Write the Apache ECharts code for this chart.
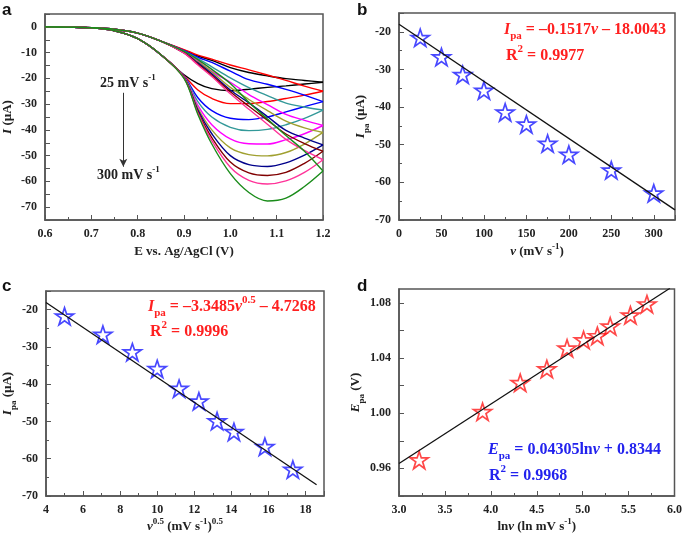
<!DOCTYPE html>
<html><head><meta charset="utf-8">
<script src="https://cdn.jsdelivr.net/npm/echarts@6/dist/echarts.min.js"></script>
<style>html,body{margin:0;padding:0;background:#fff}#c{width:685px;height:535px}</style>
</head><body><div id="c"></div>
<script>
// ---------- Panel a : CV curves ----------
const xA = [0.6,0.65,0.7,0.75,0.8,0.85,0.9,0.93,0.96,1.0,1.04,1.08,1.12,1.16,1.2];
const peakHead = [0,-0.1,-0.4,-1.5,-4.6,-10.8];
const retHead  = [0,-0.1,-0.3,-0.9,-2.4,-5.5];
const p25  = [-18.6,-22,-24,-24.8,-24.2,-23.5,-22.9,-22.2,-21.5];
const p50  = [-19,-24.5,-27.8,-29.8,-29.8,-29,-27.8,-26.5,-25];
const p75  = [-19.2,-27.5,-32.5,-35.5,-36,-35,-33,-31,-29];
const p100 = [-19.3,-29,-35,-39,-40.3,-39.8,-38,-35.5,-32.3];
const p125 = [-19.4,-30.5,-38,-43.5,-45.4,-45.5,-43.8,-41.5,-38.3];
const p150 = [-19.5,-31.5,-40,-47,-49.6,-50.1,-48.8,-45.5,-41];
const p175 = [-19.6,-32.3,-41.5,-50,-53.5,-54.2,-52.8,-49.8,-45.8];
const p200 = [-19.7,-33,-43,-52.5,-56.7,-57.7,-56.5,-53,-48.3];
const p250 = [-19.8,-33.5,-44.2,-54.5,-59.6,-61,-59.8,-56.5,-51.6];
const p300 = [-20,-34,-45.5,-57,-64.3,-67.6,-66.5,-62,-56];
const r25  = [-9,-11.3,-13,-15.8,-17.7,-19,-20.1,-20.8,-21.5];
const r50  = [-8.8,-11,-12.5,-14.8,-16.7,-18.7,-20.8,-23,-25];
const r75  = [-9.2,-11.8,-13.8,-17.2,-20.5,-22.3,-24.3,-26.5,-29];
const r100 = [-9.4,-12.3,-15.5,-19.8,-23.6,-26.7,-29.6,-31.1,-32.3];
const r125 = [-9.7,-13.2,-17.3,-21.5,-26.3,-30.2,-34,-36.3,-38.3];
const r150 = [-9.9,-13.6,-17.5,-23.5,-28.2,-32.5,-36.6,-39.2,-41];
const r175 = [-10,-14,-18.2,-24.5,-29.5,-34.8,-40.2,-43.2,-45.8];
const r200 = [-10.1,-14.4,-18.8,-25.2,-30.8,-36.2,-41.6,-45.3,-48.3];
const r250 = [-10.2,-14.8,-19.3,-26,-32,-37.8,-43.7,-48,-51.6];
const r300 = [-9.5,-12.7,-16.5,-22,-29.3,-35.8,-42.2,-48.3,-56];
const peaksA = [p25,p50,p75,p100,p125,p150,p175,p200,p250,p300];
const retsA  = [r25,r50,r75,r100,r125,r150,r175,r200,r250,r300];
const colorsA = ['#000000','#ff0000','#0000ff','#339999','#ff00ff','#a0a030','#00008b','#800000','#ff3399','#1a8c1a'];
const arrowA = [[0.769,-25.6],[0.769,-54.3]];

// ---------- Panels b, c, d ----------
const vB   = [25,50,75,100,125,150,175,200,250,300];
const ipaB = [-21.6,-26.7,-31.4,-35.6,-41.4,-44.6,-49.7,-52.6,-56.8,-62.9];
const fitB = [[0,-18.0],[325,-67.3]];
const sqrtC = [5.0,7.07,8.66,10.0,11.18,12.25,13.23,14.14,15.81,17.32];
const ipaC  = [-21.8,-26.7,-31.4,-35.9,-41.2,-44.6,-49.9,-52.8,-56.8,-62.9];
const fitC  = [[4,-18.1],[18.6,-67.0]];
const lnD  = [3.22,3.91,4.32,4.61,4.83,5.01,5.16,5.30,5.52,5.70];
const epaD = [0.966,1.001,1.022,1.032,1.047,1.053,1.056,1.063,1.071,1.079];
const fitD = [[3.0,0.9636],[5.95,1.0905]];

const SERIF = 'Liberation Serif';
const AX = '#555';
const star = 'path://M50,0 L61.8,35.4 L100,35.4 L69.1,57.3 L80.9,95.1 L50,72.4 L19.1,95.1 L30.9,57.3 L0,35.4 L38.2,35.4 Z';

function nameRich(sz){
  const base = {fontFamily:SERIF, fontWeight:'bold', fontSize:sz, color:'#222', lineHeight:20};
  return {
    b: base,
    i: Object.assign({}, base, {fontStyle:'italic'}),
    sub: {fontFamily:SERIF, fontWeight:'bold', fontSize:9, color:'#222', lineHeight:9, verticalAlign:'bottom'},
    sup: {fontFamily:SERIF, fontWeight:'bold', fontSize:9, color:'#222', lineHeight:9, verticalAlign:'top'}
  };
}
function eqRich(color){
  const base = {fontFamily:SERIF, fontWeight:'bold', fontSize:16, color:color, lineHeight:24};
  return {
    n: base,
    i: Object.assign({}, base, {fontStyle:'italic'}),
    sub: {fontFamily:SERIF, fontWeight:'bold', fontSize:11, color:color, lineHeight:11, verticalAlign:'bottom'},
    sup: {fontFamily:SERIF, fontWeight:'bold', fontSize:11, color:color, lineHeight:11, verticalAlign:'top'}
  };
}
function axis(o){
  return {
    type:'value', gridIndex:o.grid, min:o.min, max:o.max, interval:o.interval,
    name:o.name, nameLocation:'middle', nameGap:o.gap,
    nameTextStyle:{rich:nameRich(13)},
    axisLine:{show:true, onZero:false, lineStyle:{color:AX, width:1.5}},
    axisTick:{show:true, inside:true, length:5, lineStyle:{color:AX, width:1}},
    minorTick:{show:!!o.minor, splitNumber:2, length:3, lineStyle:{color:AX, width:1}},
    splitLine:{show:false}, minorSplitLine:{show:false},
    axisLabel:{fontFamily:SERIF, fontWeight:'bold', fontSize:12, color:'#222', margin:8,
      formatter:o.fmt, showMinLabel:o.showMin !== false, showMaxLabel:o.showMax !== false, hideOverlap:false}
  };
}

const series = [];
peaksA.forEach((p,i)=>{
  series.push({type:'line', xAxisIndex:0, yAxisIndex:0, showSymbol:false, smooth:0.35,
    lineStyle:{color:colorsA[i], width:1.4}, silent:true,
    data:xA.map((x,j)=>[x, j<6 ? peakHead[j] : p[j-6]])});
  series.push({type:'line', xAxisIndex:0, yAxisIndex:0, showSymbol:false, smooth:0.35,
    lineStyle:{color:colorsA[i], width:1.4}, silent:true,
    data:xA.map((x,j)=>[x, j<6 ? retHead[j] : retsA[i][j-6]])});
});
series[0].markLine = {silent:true, symbol:['none','arrow'], symbolSize:[6,8], label:{show:false},
  lineStyle:{color:'#333', width:1, type:'solid'},
  data:[[{coord:arrowA[0]},{coord:arrowA[1]}]]};

series.push({type:'line', xAxisIndex:1, yAxisIndex:1, showSymbol:false, data:fitB, lineStyle:{color:'#111', width:1.3}, silent:true});
series.push({type:'scatter', xAxisIndex:1, yAxisIndex:1, symbol:star, symbolSize:18, symbolKeepAspect:true,
  itemStyle:{color:'rgba(255,255,255,0)', borderColor:'#1a1aff', borderWidth:1.7}, data:vB.map((v,i)=>[v, ipaB[i]])});
series.push({type:'line', xAxisIndex:2, yAxisIndex:2, showSymbol:false, data:fitC, lineStyle:{color:'#111', width:1.3}, silent:true});
series.push({type:'scatter', xAxisIndex:2, yAxisIndex:2, symbol:star, symbolSize:18, symbolKeepAspect:true,
  itemStyle:{color:'rgba(255,255,255,0)', borderColor:'#1a1aff', borderWidth:1.7}, data:sqrtC.map((v,i)=>[v, ipaC[i]])});
series.push({type:'line', xAxisIndex:3, yAxisIndex:3, showSymbol:false, data:fitD, lineStyle:{color:'#111', width:1.3}, silent:true});
series.push({type:'scatter', xAxisIndex:3, yAxisIndex:3, symbol:star, symbolSize:18, symbolKeepAspect:true,
  itemStyle:{color:'rgba(255,255,255,0)', borderColor:'#ff1a1a', borderWidth:1.7}, data:lnD.map((v,i)=>[v, epaD[i]])});

const gridStyle = {show:true, borderColor:AX, borderWidth:1.5, backgroundColor:'transparent'};
const letter = (t,l,tp)=>({text:t, left:l, top:tp, padding:0,
  textStyle:{fontFamily:'Liberation Sans', fontWeight:'bold', fontSize:17, color:'#111', lineHeight:20}});
const eq = (t,l,tp,c)=>({text:t, left:l, top:tp, padding:0, textStyle:{rich:eqRich(c)}});
const ann = (t,l,tp)=>({text:t, left:l, top:tp, padding:0, textStyle:{rich:{
  n:{fontFamily:SERIF, fontWeight:'bold', fontSize:14, color:'#222', lineHeight:20},
  sup:{fontFamily:SERIF, fontWeight:'bold', fontSize:9, color:'#222', lineHeight:9, verticalAlign:'top'}}}});

const option = {
  backgroundColor:'#fff',
  animation:false,
  title:[
    letter('a',2,0), letter('b',357,0), letter('c',2,276), letter('d',357,276),
    ann('{n|25 mV s}{sup|-1}',100,73), ann('{n|300 mV s}{sup|-1}',97,165),
    eq('{i|I}{sub|pa}{n| = –0.1517}{i|v}{n| – 18.0043}',504,18,'#ff2020'),
    eq('{n|R}{sup|2}{n| = 0.9977}',506,44,'#ff2020'),
    eq('{i|I}{sub|pa}{n| = –3.3485}{i|v}{sup|0.5}{n| – 4.7268}',148,295,'#ff2020'),
    eq('{n|R}{sup|2}{n| = 0.9996}',150,320,'#ff2020'),
    eq('{i|E}{sub|pa}{n| = 0.04305ln}{i|v}{n| + 0.8344}',488,438,'#2222ee'),
    eq('{n|R}{sup|2}{n| = 0.9968}',489,464,'#2222ee')
  ],
  grid:[
    Object.assign({left:45, top:14, width:278, height:206}, gridStyle),
    Object.assign({left:399, top:13, width:276, height:207}, gridStyle),
    Object.assign({left:46, top:291, width:278, height:205}, gridStyle),
    Object.assign({left:399, top:289, width:276, height:207}, gridStyle)
  ],
  xAxis:[
    axis({grid:0, min:0.6, max:1.2, interval:0.1, minor:true, gap:22, name:'{b|E vs. Ag/AgCl (V)}', fmt:v=>v.toFixed(1)}),
    axis({grid:1, min:0, max:325, interval:50, minor:true, gap:22, showMax:false, name:'{i|v}{b| (mV s}{sup|-1}{b|)}', fmt:v=>String(v)}),
    axis({grid:2, min:4, max:19, interval:2, minor:true, gap:20, showMax:false, name:'{i|v}{sup|0.5}{b| (mV s}{sup|-1}{b|)}{sup|0.5}', fmt:v=>String(v)}),
    axis({grid:3, min:3, max:6, interval:0.5, minor:true, gap:20, name:'{b|ln}{i|v}{b| (ln mV s}{sup|-1}{b|)}', fmt:v=>v.toFixed(1)})
  ],
  yAxis:[
    axis({grid:0, min:-75, max:5, interval:5, minor:false, gap:27, name:'{i|I}{b| (µA)}', fmt:v=>(Math.round(v)%10===0 ? String(Math.round(v)) : '')}),
    axis({grid:1, min:-70, max:-15, interval:10, minor:true, gap:28, showMax:false, name:'{i|I}{sub|pa}{b| (µA)}', fmt:v=>String(v)}),
    axis({grid:2, min:-70, max:-15, interval:10, minor:true, gap:28, showMax:false, name:'{i|I}{sub|pa}{b| (µA)}', fmt:v=>String(v)}),
    axis({grid:3, min:0.94, max:1.09, interval:0.02, minor:false, gap:30, showMax:false,
      name:'{i|E}{sub|pa}{b| (V)}', fmt:v=>(Math.round(v*100)%4===0 ? v.toFixed(2) : '')})
  ],
  series:series
};
const chart = echarts.init(document.getElementById('c'), null, {renderer:'canvas'});
chart.setOption(option);
</script></body></html>
